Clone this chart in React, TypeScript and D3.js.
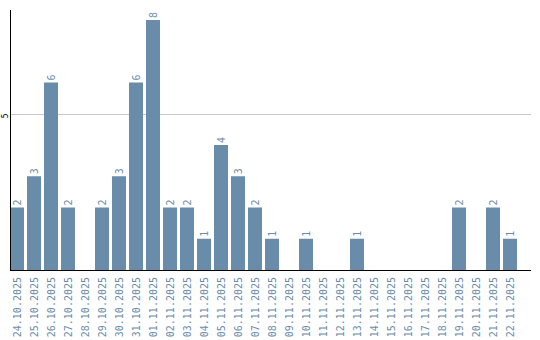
import React from "react";
import * as d3 from "d3";

const categories = [
  "24.10.2025", "25.10.2025", "26.10.2025", "27.10.2025", "28.10.2025",
  "29.10.2025", "30.10.2025", "31.10.2025", "01.11.2025", "02.11.2025",
  "03.11.2025", "04.11.2025", "05.11.2025", "06.11.2025", "07.11.2025",
  "08.11.2025", "09.11.2025", "10.11.2025", "11.11.2025", "12.11.2025",
  "13.11.2025", "14.11.2025", "15.11.2025", "16.11.2025", "17.11.2025",
  "18.11.2025", "19.11.2025", "20.11.2025", "21.11.2025", "22.11.2025",
];
const values = [2, 3, 6, 2, 0, 2, 3, 6, 8, 2, 2, 1, 4, 3, 2, 1, 0, 1, 0, 0, 1, 0, 0, 0, 0, 0, 2, 0, 2, 1];
const yTicks = [5];

const W = 540;
const H = 340;
const BAR = "#6a8cab";
const TXT = "#6a8cab";
const MONO = "'DejaVu Sans Mono', 'Liberation Mono', monospace";

export default function App() {
  const x = d3.scaleBand<string>().domain(categories).range([10, 517]).paddingInner(3 / 17).paddingOuter(0);
  const y = d3.scaleLinear().domain([0, 8]).range([270, 20]);
  const bw = x.bandwidth();
  return (
    <svg width={W} height={H} style={{ position: "absolute", left: 0, top: 0, background: "#fff" }}>
      {yTicks.map((t) => (
        <g key={t}>
          <line x1={10} x2={531} y1={Math.round(y(t)) + 0.5} y2={Math.round(y(t)) + 0.5} stroke="#c8c8c8" strokeWidth={1} />
          <text
            transform={`translate(5,${y(t) + 2}) rotate(-90)`}
            textAnchor="middle"
            dy="0.35em"
            fontSize={8}
            fontFamily={MONO}
            fill="#000"
          >
            {t}
          </text>
        </g>
      ))}
      {categories.map((c, i) => {
        const v = values[i];
        const x0 = x(c)!;
        return (
          <g key={c}>
            {v > 0 && <rect x={x0} y={y(v)} width={bw} height={y(0) - y(v)} fill={BAR} />}
            {v > 0 && (
              <text
                transform={`translate(${x0 + bw / 2},${y(v) - 2}) rotate(-90)`}
                textAnchor="start"
                dy="0.35em"
                fontSize={10}
                fontFamily={MONO}
                fill={TXT}
              >
                {v}
              </text>
            )}
            <text
              transform={`translate(${x0 + bw / 2},277) rotate(-90)`}
              textAnchor="end"
              dy="0.35em"
              fontSize={10}
              fontFamily={MONO}
              fill={TXT}
            >
              {c}
            </text>
          </g>
        );
      })}
      <line x1={10.5} x2={10.5} y1={10} y2={270} stroke="#000" strokeWidth={1} />
      <line x1={10} x2={531} y1={270.5} y2={270.5} stroke="#000" strokeWidth={1} />
    </svg>
  );
}
